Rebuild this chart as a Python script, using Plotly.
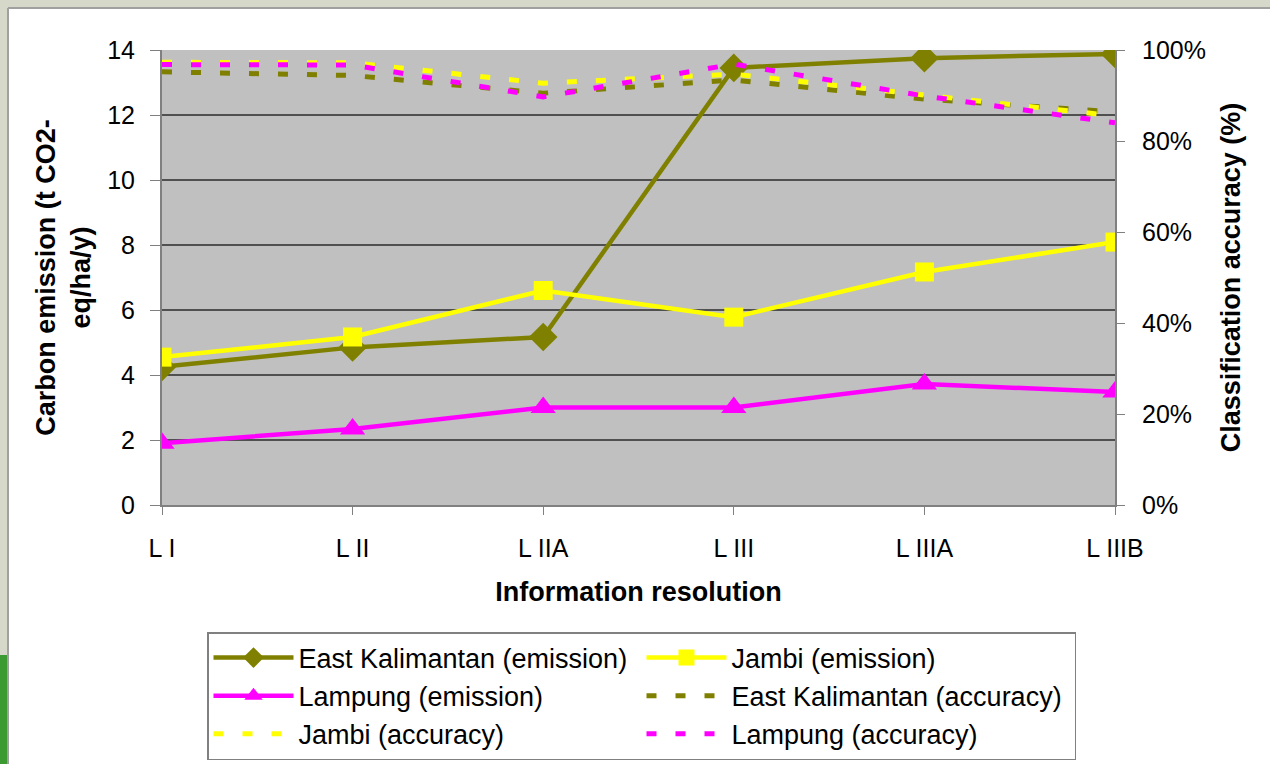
import plotly.graph_objects as go

categories = ["L I", "L II", "L IIA", "L III", "L IIIA", "L IIIB"]

ek_emission = [4.25, 4.85, 5.17, 13.45, 13.75, 13.88]
jambi_emission = [4.55, 5.17, 6.6, 5.78, 7.17, 8.09]
lampung_emission = [1.9, 2.34, 3.0, 3.0, 3.72, 3.48]

ek_accuracy = [0.952, 0.944, 0.905, 0.934, 0.892, 0.864]
jambi_accuracy = [0.973, 0.972, 0.927, 0.947, 0.901, 0.855]
lampung_accuracy = [0.968, 0.967, 0.897, 0.969, 0.899, 0.840]

OLIVE = "#808000"
YELLOW = "#FFFF00"
MAGENTA = "#FF00FF"
FONT = "Liberation Sans, Arial, sans-serif"

W, H = 1270, 764
ML, MR, MT, MB = 162, 155, 50, 259
PW, PH = W - ML - MR, H - MT - MB


def px(x):
    return (x - ML) / PW


def py(y):
    return (H - MB - y) / PH


fig = go.Figure()

fig.add_trace(go.Scatter(x=categories, y=ek_emission, name="East Kalimantan (emission)",
                         mode="lines+markers", line=dict(color=OLIVE, width=4.5),
                         marker=dict(symbol="diamond", size=22, color=OLIVE)))
fig.add_trace(go.Scatter(x=categories, y=jambi_emission, name="Jambi (emission)",
                         mode="lines+markers", line=dict(color=YELLOW, width=4.5),
                         marker=dict(symbol="square", size=19, color=YELLOW)))
fig.add_trace(go.Scatter(x=categories, y=lampung_emission, name="Lampung (emission)",
                         mode="lines+markers", line=dict(color=MAGENTA, width=4.5),
                         marker=dict(symbol="triangle-up", size=22, color=MAGENTA)))
fig.add_trace(go.Scatter(x=categories, y=ek_accuracy, name="East Kalimantan (accuracy)",
                         mode="lines", yaxis="y2",
                         line=dict(color=OLIVE, width=5, dash="10px,19px")))
fig.add_trace(go.Scatter(x=categories, y=jambi_accuracy, name="Jambi (accuracy)",
                         mode="lines", yaxis="y2",
                         line=dict(color=YELLOW, width=5, dash="10px,19px")))
fig.add_trace(go.Scatter(x=categories, y=lampung_accuracy, name="Lampung (accuracy)",
                         mode="lines", yaxis="y2",
                         line=dict(color=MAGENTA, width=5, dash="10px,19px")))

shapes = [
    # slide frame: top strip and left strip
    dict(type="rect", xref="paper", yref="paper", x0=px(0), x1=px(W), y0=py(8), y1=py(0),
         fillcolor="#d6d8c9", line=dict(width=0), layer="below"),
    dict(type="rect", xref="paper", yref="paper", x0=px(0), x1=px(8), y0=py(H), y1=py(0),
         fillcolor="#d6d8c9", line=dict(width=0), layer="below"),
    dict(type="line", xref="paper", yref="paper", x0=px(8), x1=px(W), y0=py(8), y1=py(8),
         line=dict(color="#a0a0a0", width=2)),
    dict(type="line", xref="paper", yref="paper", x0=px(8), x1=px(8), y0=py(8), y1=py(H),
         line=dict(color="#a0a0a0", width=2)),
    dict(type="rect", xref="paper", yref="paper", x0=px(0), x1=px(7), y0=py(H), y1=py(655),
         fillcolor="#3c9a32", line=dict(width=0), layer="below"),
]

fig.update_layout(
    width=W, height=H,
    margin=dict(l=ML, r=MR, t=MT, b=MB, autoexpand=False),
    paper_bgcolor="white",
    plot_bgcolor="#c0c0c0",
    font=dict(family=FONT, size=25, color="black"),
    showlegend=True,
    shapes=shapes,
    xaxis=dict(
        type="category", range=[0, 5], showgrid=False,
        showline=True, linecolor="#808080", linewidth=2,
        ticks="outside", ticklen=8, tickcolor="#808080", ticklabelstandoff=12,
        tickfont=dict(size=25),
        title=dict(text="<b>Information resolution</b>", font=dict(size=27), standoff=21),
        automargin=False, mirror=False,
    ),
    yaxis=dict(
        range=[0, 14], dtick=2, tick0=0,
        showgrid=True, gridcolor="#505050", gridwidth=1.5,
        showline=True, linecolor="#808080", linewidth=2,
        ticks="outside", ticklen=10, tickcolor="#808080", ticklabelstandoff=10,
        tickfont=dict(size=25), zeroline=False,
        title=dict(text="<b>Carbon emission (t CO2-<br>eq/ha/y)</b>", font=dict(size=27), standoff=9),
        automargin=False,
    ),
    yaxis2=dict(
        range=[0, 1], dtick=0.2, tick0=0, tickformat=".0%",
        overlaying="y", side="right", showgrid=False, zeroline=False,
        showline=True, linecolor="#808080", linewidth=2,
        ticks="outside", ticklen=8, tickcolor="#808080", ticklabelstandoff=12,
        tickfont=dict(size=25),
        title=dict(text="<b>Classification accuracy (%)</b>", font=dict(size=27), standoff=16),
        automargin=False,
    ),
    legend=dict(
        orientation="h", x=px(207), y=py(632), xanchor="left", yanchor="top",
        bgcolor="white", bordercolor="#808080", borderwidth=1.5,
        font=dict(size=27, family=FONT), entrywidth=338, itemwidth=80,
        traceorder="normal", tracegroupgap=0,
    ),
)

fig.write_html("out.html", config={"displayModeBar": False},
               post_script="document.body.style.margin='0';")
